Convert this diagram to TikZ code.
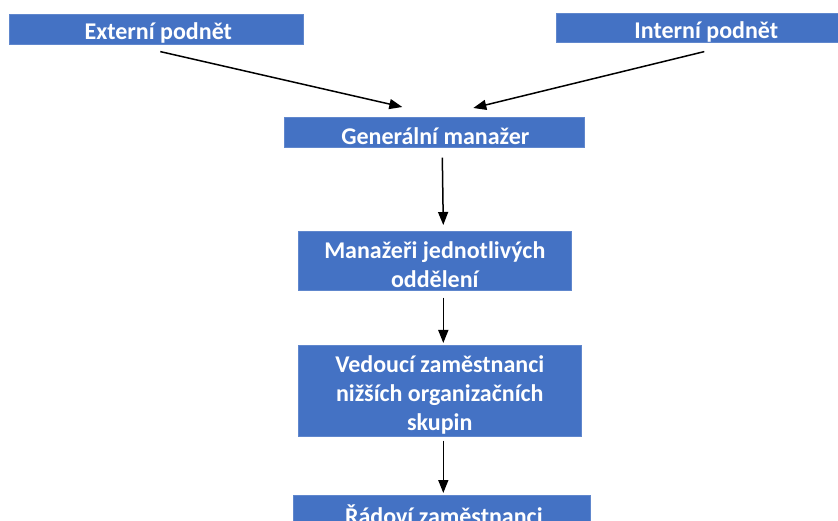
\documentclass[tikz,border=0pt]{standalone}
\usepackage{fontspec}
\setmainfont{Carlito}
\usetikzlibrary{arrows.meta}
\definecolor{boxblue}{HTML}{4472C4}
\tikzset{
  box/.style={fill=boxblue, draw=boxblue!85!white, line width=0.6pt, inner sep=0pt, anchor=north west},
  txt/.style={text=white, font=\bfseries\fontsize{24}{29}\selectfont, align=center, inner sep=0pt},
  arr/.style={draw=black, line width=1.5pt, -{Triangle[length=13pt,width=10pt]}}
}
\begin{document}
\begin{tikzpicture}[x=1pt,y=-1pt]
\clip (0,0) rectangle (838,521);
\fill[white] (0,0) rectangle (838,521);
\node[box, minimum width=294pt, minimum height=30pt] (ext) at (9,14) {};
\node[box, minimum width=300pt, minimum height=29pt] (int) at (556,13) {};
\node[box, minimum width=300pt, minimum height=30pt] (gm) at (284,117) {};
\node[box, minimum width=273pt, minimum height=59pt] (mj) at (298,231) {};
\node[box, minimum width=283pt, minimum height=91pt] (vz) at (298,345) {};
\node[box, minimum width=297pt, minimum height=31pt] (rz) at (293,495) {};
\node[txt] (extt) at ([xshift=2pt,yshift=-4pt]ext.center) {Externí podnět};
\node[txt] (intt) at ([xshift=0pt,yshift=-4pt]int.center) {Interní podnět};
\node[txt] (gmt) at ([xshift=1pt,yshift=-4pt]gm.center) {Generální manažer};
\node[txt] (mjt) at ([xshift=0pt,yshift=-3.5pt]mj.center) {Manažeři jednotlivých\\oddělení};
\node[txt] (vzt) at ([xshift=0pt,yshift=-4pt]vz.center) {Vedoucí zaměstnanci\\nižších organizačních\\skupin};
\node[txt] (rzt) at ([xshift=2pt,yshift=-4pt]rz.center) {Řádoví zaměstnanci};
\draw[arr] ([xshift=4pt,yshift=-7pt]ext.south) -- ([xshift=-32pt,yshift=10pt]gm.north);
\draw[arr] ([xshift=-2pt,yshift=-9pt]int.south) -- ([xshift=39pt,yshift=9pt]gm.north);
\draw[arr] ([xshift=8pt,yshift=-10pt]gm.south) -- ([xshift=8.5pt,yshift=6pt]mj.north);
\draw[arr] ([xshift=8.5pt,yshift=-7pt]mj.south) -- ([xshift=3.5pt,yshift=2pt]vz.north);
\draw[arr] ([xshift=3.5pt,yshift=-4pt]vz.south) -- ([xshift=1.5pt,yshift=2pt]rz.north);
\end{tikzpicture}
\end{document}
